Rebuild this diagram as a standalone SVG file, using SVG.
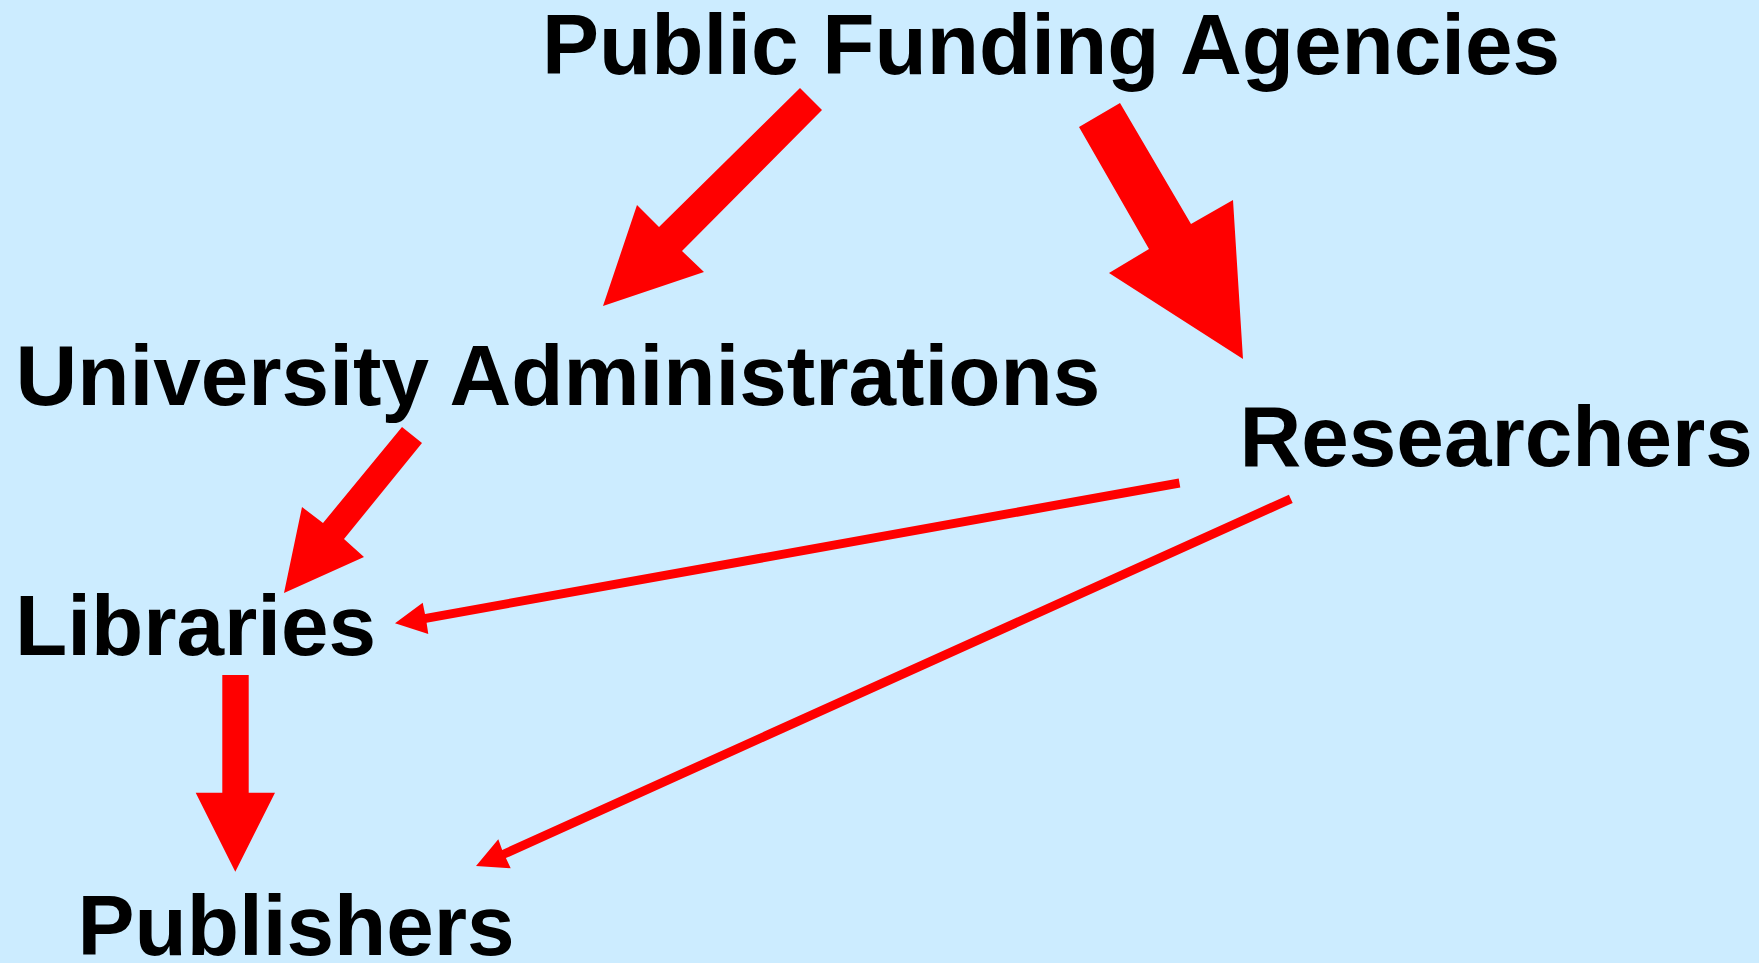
<svg xmlns="http://www.w3.org/2000/svg" width="1759" height="963" viewBox="0 0 1759 963">
<style>
.lbl{font-family:"Liberation Sans",Arial,sans-serif;font-weight:bold;font-size:85.5px;fill:#000}
.arr{fill:#FF0000;stroke:none}
</style>
<rect width="1759" height="963" fill="#CCECFF"/>
<g id="node-pfa"><text class="lbl" x="542" y="74">Public Funding Agencies</text></g>
<g id="node-univ"><text class="lbl" x="15.5" y="405">University Administrations</text></g>
<g id="node-researchers"><text class="lbl" x="1239.5" y="466">Researchers</text></g>
<g id="node-libraries"><text class="lbl" x="15" y="655">Libraries</text></g>
<g id="node-publishers"><text class="lbl" x="77.5" y="955">Publishers</text></g>
<g id="connectors">
<polygon class="arr" points="800,88 822,110 682,251 704,272 603,306 637,205 659,227"/>
<polygon class="arr" points="1079,127 1120,103 1191,224 1233,200 1243,359 1109,273 1149,249"/>
<polygon class="arr" points="402,427 422,443 344,539 364,557 284,593 302,507 323,523"/>
<polygon class="arr" points="1178.7,478.6 1180.3,487.4 426.6,622.7 428.3,634 395,623.3 422.7,602.7 425,613.9"/>
<polygon class="arr" points="1288.9,494.7 1292.7,502.9 505.9,858.1 510.7,868.3 476,866 498.3,839.3 502.2,849.9"/>
<polygon class="arr" points="222.3,675 248.7,675 248.7,792.7 275,792.7 235.3,871.7 195.7,792.7 222.3,792.7"/>
</g>
</svg>
